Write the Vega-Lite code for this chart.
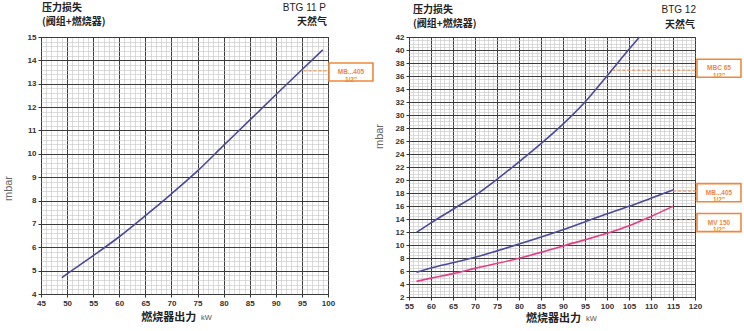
{
  "$schema": "https://vega.github.io/schema/vega-lite/v6.json",
  "padding": {"left": 1, "top": 2, "right": 2, "bottom": 2},
  "spacing": 81,
  "bounds": "flush",
  "config": {"font": "Liberation Sans", "view": {"stroke": "#333", "strokeWidth": 1}},
  "datasets": {
    "left": [
      {"kw": 49, "mbar": 4.7}, {"kw": 50, "mbar": 4.86}, {"kw": 55, "mbar": 5.64}, {"kw": 60, "mbar": 6.45},
      {"kw": 65, "mbar": 7.35}, {"kw": 70, "mbar": 8.29}, {"kw": 75, "mbar": 9.27}, {"kw": 80, "mbar": 10.36},
      {"kw": 85, "mbar": 11.44}, {"kw": 90, "mbar": 12.53}, {"kw": 95, "mbar": 13.6}, {"kw": 99, "mbar": 14.45}
    ],
    "leftNote": [
      {"txt": "MB...405\n1/2\"", "box": 13.5, "lead": 13.55, "from": 95.3}
    ],
    "right": [
      {"s": "MBC65", "kw": 56.7, "mbar": 11.95}, {"s": "MBC65", "kw": 60, "mbar": 13.4}, {"s": "MBC65", "kw": 65, "mbar": 15.5},
      {"s": "MBC65", "kw": 70, "mbar": 17.6}, {"s": "MBC65", "kw": 75, "mbar": 20.1}, {"s": "MBC65", "kw": 80, "mbar": 22.8},
      {"s": "MBC65", "kw": 85, "mbar": 25.6}, {"s": "MBC65", "kw": 90, "mbar": 28.6}, {"s": "MBC65", "kw": 95, "mbar": 32.0},
      {"s": "MBC65", "kw": 100, "mbar": 36.0}, {"s": "MBC65", "kw": 105, "mbar": 40.1}, {"s": "MBC65", "kw": 107.4, "mbar": 42.0},
      {"s": "MB405", "kw": 56.7, "mbar": 5.8}, {"s": "MB405", "kw": 60, "mbar": 6.45}, {"s": "MB405", "kw": 70, "mbar": 8.1},
      {"s": "MB405", "kw": 80, "mbar": 10.15}, {"s": "MB405", "kw": 90, "mbar": 12.35}, {"s": "MB405", "kw": 100, "mbar": 14.8},
      {"s": "MB405", "kw": 105, "mbar": 15.95}, {"s": "MB405", "kw": 110, "mbar": 17.2}, {"s": "MB405", "kw": 115, "mbar": 18.45},
      {"s": "MV150", "kw": 56.7, "mbar": 4.4}, {"s": "MV150", "kw": 60, "mbar": 4.9}, {"s": "MV150", "kw": 65, "mbar": 5.6},
      {"s": "MV150", "kw": 70, "mbar": 6.4}, {"s": "MV150", "kw": 80, "mbar": 7.95}, {"s": "MV150", "kw": 90, "mbar": 9.85},
      {"s": "MV150", "kw": 100, "mbar": 11.8}, {"s": "MV150", "kw": 105, "mbar": 12.95}, {"s": "MV150", "kw": 110, "mbar": 14.4},
      {"s": "MV150", "kw": 115, "mbar": 15.95}
    ],
    "rightNote": [
      {"txt": "MBC  65\n1/2\"", "box": 37.2, "lead": 36.9, "from": 101.2},
      {"txt": "MB...405\n1/2\"", "box": 18.05, "lead": 18.3, "from": 115},
      {"txt": "MV  150\n1/2\"", "box": 13.45, "lead": 13.9, "from": 108.5}
    ]
  },
  "hconcat": [
    {
      "width": 287,
      "height": 257,
      "layer": [
        {
          "data": {"name": "left"},
          "mark": {"type": "line", "color": "#4a4a9c", "strokeWidth": 1.6, "interpolate": "monotone"},
          "encoding": {
            "x": {"field": "kw", "type": "quantitative", "scale": {"domain": [45, 100], "nice": false, "zero": false},
              "axis": {"title": null, "tickCount": 55, "grid": true, "domain": false,
                "gridColor": {"condition": {"test": "datum.value % 5 === 0", "value": "#3c3c3c"}, "value": "#c4c4c4"},
                "gridWidth": {"condition": {"test": "datum.value % 5 === 0", "value": 1}, "value": 0.6},
                "tickOpacity": {"condition": {"test": "datum.value % 5 === 0", "value": 1}, "value": 0},
                "tickSize": 3, "tickColor": "#333",
                "labelExpr": "datum.value % 5 === 0 ? format(datum.value, 'd') : ''",
                "labelOverlap": false, "labelFlush": false, "labelFontSize": 8, "labelFontWeight": "bold", "labelColor": "#333", "labelPadding": 2}},
            "y": {"field": "mbar", "type": "quantitative", "scale": {"domain": [4, 15], "nice": false, "zero": false},
              "axis": {"title": "mbar", "tickCount": 55, "grid": true, "domain": false,
                "gridColor": {"condition": {"test": "datum.value % 1 === 0", "value": "#3c3c3c"}, "value": "#c4c4c4"},
                "gridWidth": {"condition": {"test": "datum.value % 1 === 0", "value": 1}, "value": 0.6},
                "tickOpacity": {"condition": {"test": "datum.value % 1 === 0", "value": 1}, "value": 0},
                "tickSize": 3, "tickColor": "#333",
                "labelExpr": "datum.value % 1 === 0 ? format(datum.value, 'd') : ''",
                "labelOverlap": false, "labelFlush": false, "labelFontSize": 8, "labelFontWeight": "bold", "labelColor": "#333", "labelPadding": 2,
                "titleFontSize": 11, "titleFontWeight": "normal", "titleColor": "#666", "titleX": -28, "titleY": 151}}
          }
        },
        {
          "data": {"name": "leftNote"},
          "mark": {"type": "rule", "color": "#f0883a", "strokeDash": [3, 2], "strokeWidth": 1},
          "encoding": {
            "x": {"field": "from", "type": "quantitative"},
            "x2": {"datum": 100.2},
            "y": {"field": "lead", "type": "quantitative"}
          }
        },
        {
          "data": {"name": "leftNote"},
          "mark": {"type": "point", "shape": "M-1,-0.41L1,-0.41L1,0.41L-1,0.41Z", "size": 1936, "filled": true, "fill": "#ffffff", "fillOpacity": 1, "stroke": "#f0883a", "strokeWidth": 1.6, "opacity": 1},
          "encoding": {
            "x": {"datum": 104.4, "type": "quantitative"},
            "y": {"field": "box", "type": "quantitative"}
          }
        },
        {
          "data": {"name": "leftNote"},
          "mark": {"type": "text", "color": "#f0883a", "fontSize": 6.5, "fontWeight": "bold", "lineBreak": "\n", "lineHeight": 7.5, "baseline": "middle", "align": "center"},
          "encoding": {
            "x": {"datum": 104.4, "type": "quantitative"},
            "y": {"field": "box", "type": "quantitative"},
            "text": {"field": "txt"}
          }
        },
        {
          "data": {"values": [{"t1": "压力损失", "t2": "(阀组+燃烧器)", "t3": "BTG 11 P", "t4": "天然气", "t5": "燃烧器出力", "t6": "kW"}]},
          "layer": [
            {"mark": {"type": "text", "align": "left", "baseline": "middle", "dy": -29, "dx": 1, "fontSize": 10, "fontWeight": "bold", "font": "Noto Sans CJK SC", "color": "#222"},
              "encoding": {"x": {"datum": 45, "type": "quantitative"}, "y": {"datum": 15, "type": "quantitative"}, "text": {"field": "t1"}}},
            {"mark": {"type": "text", "align": "left", "baseline": "middle", "dy": -15, "dx": 1, "fontSize": 10, "fontWeight": "bold", "font": "Noto Sans CJK SC", "color": "#222"},
              "encoding": {"x": {"datum": 45, "type": "quantitative"}, "y": {"datum": 15, "type": "quantitative"}, "text": {"field": "t2"}}},
            {"mark": {"type": "text", "align": "right", "baseline": "middle", "dy": -29, "dx": -2, "fontSize": 10, "color": "#222"},
              "encoding": {"x": {"datum": 100, "type": "quantitative"}, "y": {"datum": 15, "type": "quantitative"}, "text": {"field": "t3"}}},
            {"mark": {"type": "text", "align": "right", "baseline": "middle", "dy": -15, "dx": -1, "fontSize": 10, "fontWeight": "bold", "font": "Noto Sans CJK SC", "color": "#222"},
              "encoding": {"x": {"datum": 100, "type": "quantitative"}, "y": {"datum": 15, "type": "quantitative"}, "text": {"field": "t4"}}},
            {"mark": {"type": "text", "align": "left", "baseline": "middle", "dy": 24, "fontSize": 11, "fontWeight": "bold", "font": "Noto Sans CJK SC", "color": "#222"},
              "encoding": {"x": {"datum": 64.2, "type": "quantitative"}, "y": {"datum": 4, "type": "quantitative"}, "text": {"field": "t5"}}},
            {"mark": {"type": "text", "align": "left", "baseline": "middle", "dy": 24, "fontSize": 7.5, "color": "#555"},
              "encoding": {"x": {"datum": 75.65, "type": "quantitative"}, "y": {"datum": 4, "type": "quantitative"}, "text": {"field": "t6"}}}
          ]
        }
      ]
    },
    {
      "width": 286,
      "height": 260,
      "layer": [
        {
          "data": {"name": "right"},
          "mark": {"type": "line", "strokeWidth": 1.6, "interpolate": "monotone"},
          "encoding": {
            "x": {"field": "kw", "type": "quantitative", "scale": {"domain": [55, 120], "nice": false, "zero": false},
              "axis": {"title": null, "tickCount": 65, "grid": true, "domain": false,
                "gridColor": {"condition": {"test": "datum.value % 5 === 0", "value": "#3c3c3c"}, "value": "#c4c4c4"},
                "gridWidth": {"condition": {"test": "datum.value % 5 === 0", "value": 1}, "value": 0.6},
                "tickOpacity": {"condition": {"test": "datum.value % 5 === 0", "value": 1}, "value": 0},
                "tickSize": 3, "tickColor": "#333",
                "labelExpr": "datum.value % 5 === 0 ? format(datum.value, 'd') : ''",
                "labelOverlap": false, "labelFlush": false, "labelFontSize": 8, "labelFontWeight": "bold", "labelColor": "#333", "labelPadding": 2}},
            "y": {"field": "mbar", "type": "quantitative", "scale": {"domain": [2, 42], "nice": false, "zero": false},
              "axis": {"title": "mbar", "tickCount": 80, "grid": true, "domain": false,
                "gridColor": {"condition": {"test": "datum.value % 2 === 0", "value": "#3c3c3c"}, "value": "#c4c4c4"},
                "gridWidth": {"condition": {"test": "datum.value % 2 === 0", "value": 1}, "value": 0.6},
                "tickOpacity": {"condition": {"test": "datum.value % 2 === 0", "value": 1}, "value": 0},
                "tickSize": 3, "tickColor": "#333",
                "labelExpr": "datum.value % 2 === 0 ? format(datum.value, 'd') : ''",
                "labelOverlap": false, "labelFlush": false, "labelFontSize": 8, "labelFontWeight": "bold", "labelColor": "#333", "labelPadding": 2,
                "titleFontSize": 11, "titleFontWeight": "normal", "titleColor": "#666", "titleX": -25, "titleY": 99}},
            "color": {"field": "s", "type": "nominal", "legend": null,
              "scale": {"domain": ["MBC65", "MB405", "MV150"], "range": ["#4a4a9c", "#4a4a9c", "#e33d86"]}},
            "detail": {"field": "s"}
          }
        },
        {
          "data": {"name": "rightNote"},
          "mark": {"type": "rule", "color": "#f0883a", "strokeDash": [3, 2], "strokeWidth": 1},
          "encoding": {
            "x": {"field": "from", "type": "quantitative"},
            "x2": {"datum": 120.45},
            "y": {"field": "lead", "type": "quantitative"}
          }
        },
        {
          "data": {"name": "rightNote"},
          "mark": {"type": "point", "shape": "M-1,-0.41L1,-0.41L1,0.41L-1,0.41Z", "size": 1936, "filled": true, "fill": "#ffffff", "fillOpacity": 1, "stroke": "#f0883a", "strokeWidth": 1.6, "opacity": 1},
          "encoding": {
            "x": {"datum": 125.45, "type": "quantitative"},
            "y": {"field": "box", "type": "quantitative"}
          }
        },
        {
          "data": {"name": "rightNote"},
          "mark": {"type": "text", "color": "#f0883a", "fontSize": 6.5, "fontWeight": "bold", "lineBreak": "\n", "lineHeight": 7.5, "baseline": "middle", "align": "center"},
          "encoding": {
            "x": {"datum": 125.45, "type": "quantitative"},
            "y": {"field": "box", "type": "quantitative"},
            "text": {"field": "txt"}
          }
        },
        {
          "data": {"values": [{"t1": "压力损失", "t2": "(阀组+燃烧器)", "t3": "BTG 12", "t4": "天然气", "t5": "燃烧器出力", "t6": "kW"}]},
          "layer": [
            {"mark": {"type": "text", "align": "left", "baseline": "middle", "dy": -27, "dx": 4, "fontSize": 10, "fontWeight": "bold", "font": "Noto Sans CJK SC", "color": "#222"},
              "encoding": {"x": {"datum": 55, "type": "quantitative"}, "y": {"datum": 42, "type": "quantitative"}, "text": {"field": "t1"}}},
            {"mark": {"type": "text", "align": "left", "baseline": "middle", "dy": -13, "dx": 4, "fontSize": 10, "fontWeight": "bold", "font": "Noto Sans CJK SC", "color": "#222"},
              "encoding": {"x": {"datum": 55, "type": "quantitative"}, "y": {"datum": 42, "type": "quantitative"}, "text": {"field": "t2"}}},
            {"mark": {"type": "text", "align": "right", "baseline": "middle", "dy": -27, "dx": 1, "fontSize": 10, "color": "#222"},
              "encoding": {"x": {"datum": 120, "type": "quantitative"}, "y": {"datum": 42, "type": "quantitative"}, "text": {"field": "t3"}}},
            {"mark": {"type": "text", "align": "right", "baseline": "middle", "dy": -12, "dx": 0, "fontSize": 10, "fontWeight": "bold", "font": "Noto Sans CJK SC", "color": "#222"},
              "encoding": {"x": {"datum": 120, "type": "quantitative"}, "y": {"datum": 42, "type": "quantitative"}, "text": {"field": "t4"}}},
            {"mark": {"type": "text", "align": "left", "baseline": "middle", "dy": 22, "fontSize": 11, "fontWeight": "bold", "font": "Noto Sans CJK SC", "color": "#222"},
              "encoding": {"x": {"datum": 81.6, "type": "quantitative"}, "y": {"datum": 2, "type": "quantitative"}, "text": {"field": "t5"}}},
            {"mark": {"type": "text", "align": "left", "baseline": "middle", "dy": 22, "fontSize": 7.5, "color": "#555"},
              "encoding": {"x": {"datum": 95.2, "type": "quantitative"}, "y": {"datum": 2, "type": "quantitative"}, "text": {"field": "t6"}}}
          ]
        }
      ]
    }
  ]
}
